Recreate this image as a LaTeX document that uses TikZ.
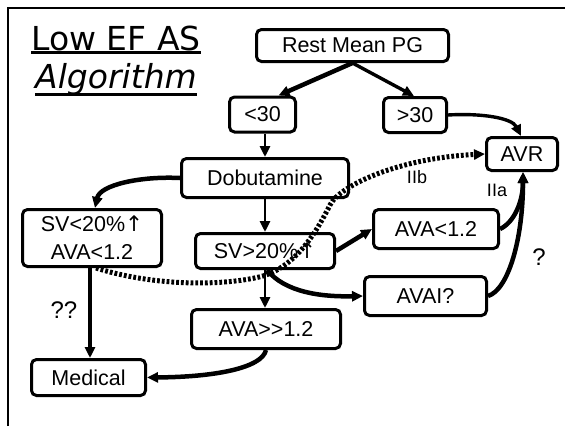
\documentclass[tikz,border=0pt]{standalone}
\usepackage{fontspec}
\setmainfont{Liberation Sans}[Ligatures=TeXOff]
\newfontfamily\titlefont{DejaVu Sans}
\newfontfamily\symfont{DejaVu Sans}
\usetikzlibrary{arrows.meta}
\newcommand\myul[2]{\setbox0\hbox{#2}\rlap{\rule[-#1]{\wd0}{3pt}}\box0}
\begin{document}
\begin{tikzpicture}[x=1pt,y=-1pt,
  box/.style={draw, line width=3pt, rounded corners=5pt, inner sep=0pt,
    font=\fontsize{21.5}{28}\selectfont, align=center},
  tip/.style={-{Triangle[length=11pt,width=10pt]}},
  lwa/.style={line width=2.8pt},
  lwb/.style={line width=3.4pt},
  lwc/.style={line width=4.5pt},
  dotline/.style={line width=5pt, dash pattern=on 2.8pt off 2pt},
  lbl/.style={inner sep=0pt, font=\fontsize{18}{18}\selectfont},
  qlbl/.style={inner sep=0pt, font=\fontsize{24}{24}\selectfont}
]
\useasboundingbox (0,0) rectangle (565,426);
% frame
\draw[line width=2.5pt] (8,426) -- (8,8) -- (565,8);
% title
\node[anchor=base, inner sep=0pt, font=\titlefont\fontsize{33}{40}\selectfont] (t1) at (116,50) {\myul{4pt}{Low EF AS}};
\node[anchor=base, inner sep=0pt, font=\titlefont\itshape\fontsize{33}{40}\selectfont] (t2) at (116,88) {\myul{8pt}{Algorithm}};
% nodes
\node[box, minimum width=192pt, minimum height=32pt] (rest) at (352.5,45.5) {Rest Mean PG};
\node[box, minimum width=66pt, minimum height=35pt] (lt30) at (262.5,114.5) {<30};
\node[box, minimum width=63pt, minimum height=35pt] (gt30) at (415,115) {>30};
\node[box, minimum width=71pt, minimum height=33pt] (avr) at (522,154) {AVR};
\node[box, minimum width=167pt, minimum height=39pt] (dob) at (265,178) {Dobutamine};
\node[box, minimum width=139pt, minimum height=57pt] (sv1) at (92,238) {SV<20\%{\symfont ↑}\\AVA<1.2};
\node[box, minimum width=139pt, minimum height=35pt] (sv2) at (265,251) {SV>20\%{\symfont ↑}};
\node[box, minimum width=125pt, minimum height=39pt] (ava1) at (436,229) {AVA<1.2};
\node[box, minimum width=122pt, minimum height=39pt] (avai) at (425.5,296) {AVAI?};
\node[box, minimum width=149pt, minimum height=39pt] (ava2) at (266,329) {AVA>{}>1.2};
\node[box, minimum width=114pt, minimum height=36pt] (med) at (88.5,377.5) {Medical};
% labels
\node[lbl] (lIIb) at (417,177) {IIb};
\node[lbl] (lIIa) at (497,190) {IIa};
\node[qlbl] (lq) at (539,257) {?};
\node[qlbl] (lqq) at (64,310) {??};
% connectors
\draw[lwc, tip] (rest.south) -- ([xshift=16pt]lt30.north);
\draw[lwb, tip] (rest.south) -- ([xshift=-1pt]gt30.north);
\draw[lwb, tip] (gt30.east) .. controls (482,113) and (512,118) .. ([xshift=-1pt]avr.north);
\draw[lwa, tip] (lt30.south -| dob.north) -- (dob.north);
\draw[lwc, tip] (dob.west) .. controls (140,176) and (100,185) .. ([xshift=3pt]sv1.north);
\draw[lwa, tip] (dob.south) -- (sv2.north);
\draw[lwc, tip] (sv2.east) -- (ava1.west);
\draw[lwc, tip] ([xshift=2pt]sv2.south) .. controls (285,292) and (320,297) .. (avai.west);
\draw[lwa, tip] (sv2.south) -- (sv2.south |- ava2.north);
\draw[lwc, tip] (ava2.south) .. controls (262,368) and (215,377) .. (med.east);
\draw[lwc, tip] ([xshift=-2pt]sv1.south) -- ([xshift=1.5pt]med.north);
\draw[lwc, tip] (ava1.east) .. controls (515,222) and (523,200) .. ([xshift=1pt]avr.south);
\draw[lwc, tip] (avai.east) .. controls (508,290) and (523,240) .. ([xshift=1pt]avr.south);
\draw[dotline, tip] ([xshift=4pt]sv1.south) .. controls (160,288) and (230,285) .. (263,276)
  .. controls (295,266) and (315,235) .. (330,205)
  .. controls (340,185) and (400,158) .. (avr.west);
\end{tikzpicture}
\end{document}
